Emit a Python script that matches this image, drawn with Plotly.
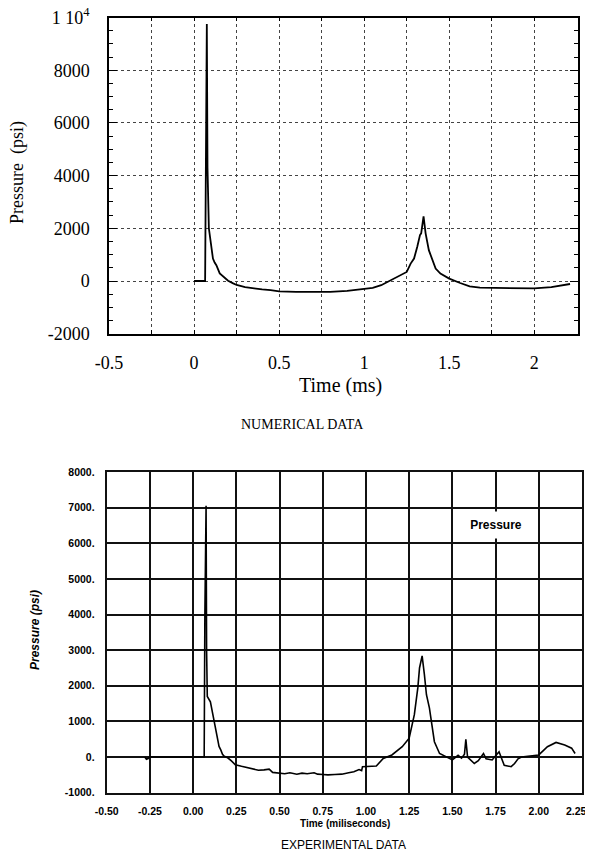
import plotly.graph_objects as go

# ---------------- data ----------------
# Numerical (top)
t_num = [0.0, 0.065, 0.075, 0.077, 0.079, 0.087, 0.095, 0.101, 0.111, 0.121, 0.131,
         0.151, 0.171, 0.2, 0.23, 0.25, 0.3, 0.35, 0.4, 0.45, 0.5, 0.6, 0.7, 0.8,
         0.9, 1.0, 1.05, 1.1, 1.157, 1.215, 1.25, 1.273, 1.293, 1.312, 1.328, 1.335,
         1.343, 1.349, 1.355, 1.361, 1.38, 1.4, 1.42, 1.448, 1.5, 1.564, 1.62, 1.68,
         1.75, 1.85, 1.95, 2.0, 2.1, 2.2, 2.21]
p_num = [0, 0, 9750, 6500, 4300, 2000, 1560, 1170, 850, 700, 600,
         290, 160, 10, -90, -150, -230, -280, -320, -350, -390, -410, -418, -410,
         -375, -316, -260, -160, 25, 217, 344, 660, 850, 1300, 1745, 1810,
         2250, 2450, 2130, 1810, 1170, 850, 470, 280, 90, -76, -200, -255,
         -260, -280, -290, -280, -230, -130, -114]

# Experimental (bottom)
t_exp = [-0.28, -0.27, -0.26, -0.25, -0.2, 0.0, 0.064, 0.068, 0.075,
         0.078, 0.082, 0.1, 0.11, 0.12, 0.13, 0.14, 0.15, 0.16, 0.17, 0.18, 0.2,
         0.22, 0.244, 0.28, 0.33, 0.378, 0.41, 0.44, 0.46, 0.5, 0.53, 0.56, 0.6,
         0.63, 0.66, 0.7, 0.72, 0.75, 0.78, 0.82, 0.86, 0.9, 0.93, 0.96, 0.975,
         0.98, 1.02, 1.06, 1.1, 1.15, 1.21, 1.25, 1.28, 1.30, 1.31, 1.325, 1.338,
         1.35, 1.367, 1.396, 1.426, 1.465, 1.5, 1.533, 1.553, 1.57, 1.578, 1.588,
         1.61, 1.627, 1.65, 1.68, 1.695, 1.73, 1.77, 1.785, 1.80, 1.84, 1.86, 1.88,
         1.9, 2.0, 2.05, 2.1, 2.15, 2.19, 2.21]
p_exp = [0, -60, -40, 10, 0, 10, 0, 4000, 7050,
         3000, 1700, 1550, 1300, 1000, 750, 500, 300, 200, 80, 20, -20,
         -100, -215, -260, -310, -370, -360, -340, -430, -450, -470, -440, -480,
         -450, -470, -440, -480, -490, -500, -490, -480, -440, -410, -350, -380,
         -270, -270, -250, -40, 60, 290, 530, 1190, 1940, 2500, 2840, 2320,
         1750, 1380, 430, 100, 0, -80, 50, -30, 80, 500, 0,
         -100, -180, -100, 100, -50, -80, 150, -30, -230, -270, -180, -50,
         0, 60, 290, 410, 340, 250, 100]

num_xticks = [-0.5, -0.25, 0, 0.25, 0.5, 0.75, 1, 1.25, 1.5, 1.75, 2, 2.25]
num_xlabels = ['-0.5', '', '0', '', '0.5', '', '1', '', '1.5', '', '2', '']
num_yticks = [-2000, 0, 2000, 4000, 6000, 8000, 10000]
num_ylabels = ['-2000', '0', '2000', '4000', '6000', '8000', '1 10<sup>4</sup>']

exp_xticks = [-0.5, -0.25, 0, 0.25, 0.5, 0.75, 1, 1.25, 1.5, 1.75, 2, 2.25]
exp_xlabels = ['-0.50', '-0.25', '0.00', '0.25', '0.50', '0.75', '1.00',
               '1.25', '1.50', '1.75', '2.00', '2.25\u00a0\u00a0\u00a0\u00a0']
exp_yticks = [-1000, 0, 1000, 2000, 3000, 4000, 5000, 6000, 7000, 8000]
exp_ylabels = ['-1000.', '0.', '1000.', '2000.', '3000.', '4000.', '5000.',
               '6000.', '7000.', '8000.']

# page body has an 8px margin: the figure is placed at (8, 8)
OFF = 8
W, H = 593 - OFF, 856 - OFF


def px(x):
    return (x - OFF) / W


def py(y):
    return 1 - (y - OFF) / H


SERIF = "Liberation Serif"
SANS = "Liberation Sans"

fig = go.Figure()
fig.add_trace(go.Scatter(x=t_num, y=p_num, mode='lines',
                         line=dict(color='black', width=1.8),
                         xaxis='x', yaxis='y', showlegend=False))
fig.add_trace(go.Scatter(x=t_exp, y=p_exp, mode='lines',
                         line=dict(color='black', width=1.6),
                         xaxis='x2', yaxis='y2', showlegend=False))

fig.update_layout(
    width=W, height=H,
    margin=dict(l=0, r=0, t=0, b=0, autoexpand=False),
    paper_bgcolor='white', plot_bgcolor='white',
    xaxis=dict(domain=[px(109), px(577.7)], range=[-0.5, 2.255], automargin=False,
               tickvals=num_xticks, ticktext=num_xlabels,
               showgrid=True, gridcolor='#444', griddash='dot', gridwidth=1,
               showline=True, linecolor='black', linewidth=1.5, mirror='ticks',
               ticks='inside', ticklen=4, tickcolor='black',
               tickfont=dict(family=SERIF, size=18, color='black'),
               ticklabeloverflow='allow',
               ticklabelstandoff=12, zeroline=False, anchor='y'),
    yaxis=dict(domain=[py(333.7), py(17.5)], range=[-2000, 10000], automargin=False,
               tickvals=num_yticks, ticktext=num_ylabels,
               showgrid=True, gridcolor='#444', griddash='dot', gridwidth=1,
               showline=True, linecolor='black', linewidth=1.5, mirror='ticks',
               ticks='inside', ticklen=8, tickcolor='black',
               minor=dict(dtick=500, ticks='inside', ticklen=4, tickcolor='black',
                          showgrid=False),
               tickfont=dict(family=SERIF, size=18, color='black'),
               ticklabeloverflow='allow',
               ticklabelstandoff=14, zeroline=False, anchor='x'),
    xaxis2=dict(domain=[px(106.7), px(582)], range=[-0.5, 2.25], automargin=False,
                tickvals=exp_xticks, ticktext=exp_xlabels,
                showgrid=True, gridcolor='#111', gridwidth=1.6,
                showline=True, linecolor='#111', linewidth=2, mirror=True,
                ticks='',
                tickfont=dict(family=SANS, size=10.5, color='black', weight='bold'),
                ticklabeloverflow='allow',
                ticklabelstandoff=8, zeroline=False, anchor='y2'),
    yaxis2=dict(domain=[py(792.7), py(472)], range=[-1000, 8000], automargin=False,
                tickvals=exp_yticks, ticktext=exp_ylabels,
                showgrid=True, gridcolor='#111', gridwidth=1.6,
                showline=True, linecolor='#111', linewidth=2, mirror=True,
                ticks='',
                tickfont=dict(family=SANS, size=10.5, color='black', weight='bold'),
                ticklabeloverflow='allow',
                ticklabelstandoff=8, zeroline=False, anchor='x2'),
)

annotations = [
    dict(text='Pressure  (psi)', x=px(18), y=py(173), xref='paper', yref='paper',
         textangle=-90, showarrow=False, xanchor='center', yanchor='middle',
         font=dict(family=SERIF, size=18, color='black')),
    dict(text='Time (ms)', x=px(340), y=py(385), xref='paper', yref='paper',
         showarrow=False, xanchor='center', yanchor='middle',
         font=dict(family=SERIF, size=20, color='black')),
    dict(text='NUMERICAL DATA', x=px(302), y=py(424), xref='paper', yref='paper',
         showarrow=False, xanchor='center', yanchor='middle',
         font=dict(family=SERIF, size=14, color='black')),
    dict(text='<i>Pressure (psi)</i>', x=px(35), y=py(630), xref='paper', yref='paper',
         textangle=-90, showarrow=False, xanchor='center', yanchor='middle',
         font=dict(family=SANS, size=12, color='black', weight='bold')),
    dict(text='Time (miliseconds)', x=px(345), y=py(823), xref='paper', yref='paper',
         showarrow=False, xanchor='center', yanchor='middle',
         font=dict(family=SANS, size=10, color='black', weight='bold')),
    dict(text='EXPERIMENTAL DATA', x=px(343), y=py(845), xref='paper', yref='paper',
         showarrow=False, xanchor='center', yanchor='middle',
         font=dict(family=SANS, size=12, color='black')),
    dict(text='Pressure', x=1.75, y=6500, xref='x2', yref='y2',
         showarrow=False, xanchor='center', yanchor='middle',
         bgcolor='white', width=78, height=24,
         font=dict(family=SANS, size=12, color='black', weight='bold')),
]
fig.update_layout(annotations=annotations)

fig.write_html("out.html")
